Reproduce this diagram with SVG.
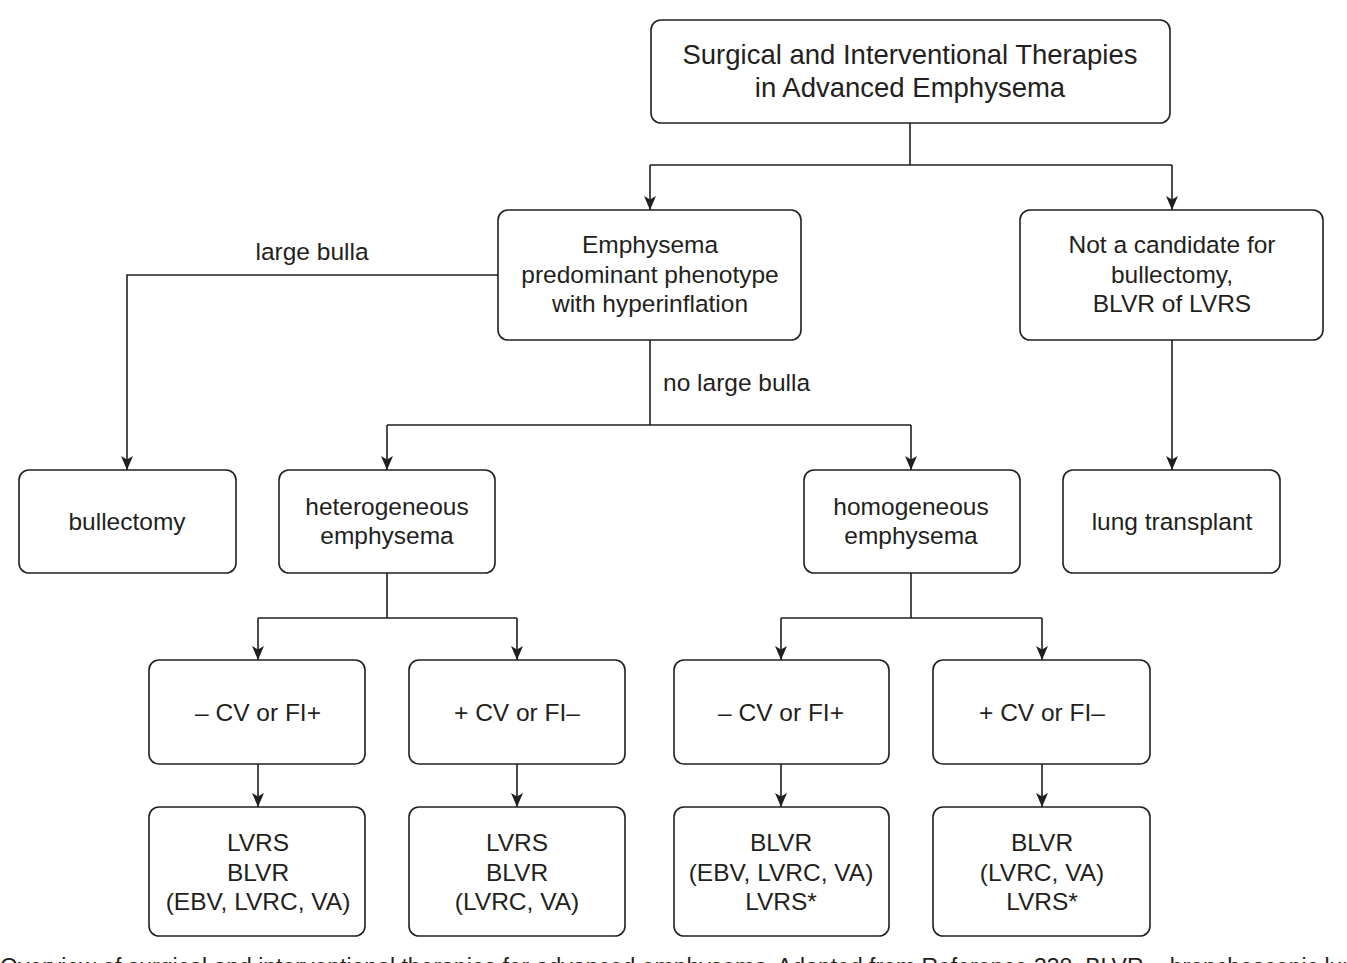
<svg xmlns="http://www.w3.org/2000/svg" width="1347" height="963" viewBox="0 0 1347 963">
<defs>
<marker id="ah" markerWidth="14" markerHeight="12" viewBox="0 0 14 12" refX="14" refY="6" orient="auto" markerUnits="userSpaceOnUse">
<path d="M0,0 L14,6 L0,12 L3.5,6 Z" fill="#231f20"/>
</marker>
<style>
.box{fill:#fff;stroke:#231f20;stroke-width:1.6}
.t{font-family:"Liberation Sans",Arial,sans-serif;font-size:24.5px;fill:#231f20;text-anchor:middle}
.tt{font-size:27.5px}
.l{text-anchor:start}
.c{fill:none;stroke:#231f20;stroke-width:1.6}
.a{marker-end:url(#ah)}
.cap{font-family:"Liberation Sans",Arial,sans-serif;font-size:23px;fill:#231f20}
</style>
</defs>
<rect width="1347" height="963" fill="#fff"/>
<g id="connectors">
<path class="c" d="M910,123 V165 M650,165 H1172"/>
<path class="c a" d="M650,165 V210"/>
<path class="c a" d="M1172,165 V210"/>
<path class="c a" d="M498,275 H127 V470"/>
<path class="c" d="M650,340 V425 M387,425 H911"/>
<path class="c a" d="M387,425 V470"/>
<path class="c a" d="M911,425 V470"/>
<path class="c a" d="M1172,340 V470"/>
<path class="c" d="M387,573 V618 M258,618 H517"/>
<path class="c a" d="M258,618 V660"/>
<path class="c a" d="M517,618 V660"/>
<path class="c" d="M911,573 V618 M781,618 H1042"/>
<path class="c a" d="M781,618 V660"/>
<path class="c a" d="M1042,618 V660"/>
<path class="c a" d="M258,764 V807"/>
<path class="c a" d="M517,764 V807"/>
<path class="c a" d="M781,764 V807"/>
<path class="c a" d="M1042,764 V807"/>
<text class="t" x="312" y="260">large bulla</text>
<text class="t l" x="663" y="391">no large bulla</text>
</g>
<g id="n-title">
<rect class="box" x="651" y="20" width="519" height="103" rx="10"/>
<text class="t tt" x="910" y="64">Surgical and Interventional Therapies</text>
<text class="t tt" x="910" y="97">in Advanced Emphysema</text>
</g>
<g id="n-emph">
<rect class="box" x="498" y="210" width="303" height="130" rx="10"/>
<text class="t" x="650" y="253">Emphysema</text>
<text class="t" x="650" y="283">predominant phenotype</text>
<text class="t" x="650" y="312">with hyperinflation</text>
</g>
<g id="n-notcand">
<rect class="box" x="1020" y="210" width="303" height="130" rx="10"/>
<text class="t" x="1172" y="253">Not a candidate for</text>
<text class="t" x="1172" y="283">bullectomy,</text>
<text class="t" x="1172" y="312">BLVR of LVRS</text>
</g>
<g id="n-bullectomy">
<rect class="box" x="19" y="470" width="217" height="103" rx="10"/>
<text class="t" x="127" y="530">bullectomy</text>
</g>
<g id="n-hetero">
<rect class="box" x="279" y="470" width="216" height="103" rx="10"/>
<text class="t" x="387" y="515">heterogeneous</text>
<text class="t" x="387" y="544">emphysema</text>
</g>
<g id="n-homo">
<rect class="box" x="804" y="470" width="216" height="103" rx="10"/>
<text class="t" x="911" y="515">homogeneous</text>
<text class="t" x="911" y="544">emphysema</text>
</g>
<g id="n-transplant">
<rect class="box" x="1063" y="470" width="217" height="103" rx="10"/>
<text class="t" x="1172" y="530">lung transplant</text>
</g>
<g id="n-het-neg">
<rect class="box" x="149" y="660" width="216" height="104" rx="10"/>
<text class="t" x="258" y="721">– CV or FI+</text>
</g>
<g id="n-het-pos">
<rect class="box" x="409" y="660" width="216" height="104" rx="10"/>
<text class="t" x="517" y="721">+ CV or FI–</text>
</g>
<g id="n-hom-neg">
<rect class="box" x="674" y="660" width="215" height="104" rx="10"/>
<text class="t" x="781" y="721">– CV or FI+</text>
</g>
<g id="n-hom-pos">
<rect class="box" x="933" y="660" width="217" height="104" rx="10"/>
<text class="t" x="1042" y="721">+ CV or FI–</text>
</g>
<g id="n-het-neg-tx">
<rect class="box" x="149" y="807" width="216" height="129" rx="10"/>
<text class="t" x="258" y="851">LVRS</text>
<text class="t" x="258" y="881">BLVR</text>
<text class="t" x="258" y="910">(EBV, LVRC, VA)</text>
</g>
<g id="n-het-pos-tx">
<rect class="box" x="409" y="807" width="216" height="129" rx="10"/>
<text class="t" x="517" y="851">LVRS</text>
<text class="t" x="517" y="881">BLVR</text>
<text class="t" x="517" y="910">(LVRC, VA)</text>
</g>
<g id="n-hom-neg-tx">
<rect class="box" x="674" y="807" width="215" height="129" rx="10"/>
<text class="t" x="781" y="851">BLVR</text>
<text class="t" x="781" y="881">(EBV, LVRC, VA)</text>
<text class="t" x="781" y="910">LVRS*</text>
</g>
<g id="n-hom-pos-tx">
<rect class="box" x="933" y="807" width="217" height="129" rx="10"/>
<text class="t" x="1042" y="851">BLVR</text>
<text class="t" x="1042" y="881">(LVRC, VA)</text>
<text class="t" x="1042" y="910">LVRS*</text>
</g>
<text class="cap" y="975"><tspan x="0">Overview of surgical and interventional therapies for advanced emphysema.</tspan><tspan x="777">Adapted from Reference 338. BLVR = bronchoscopic lung</tspan></text>
</svg>
